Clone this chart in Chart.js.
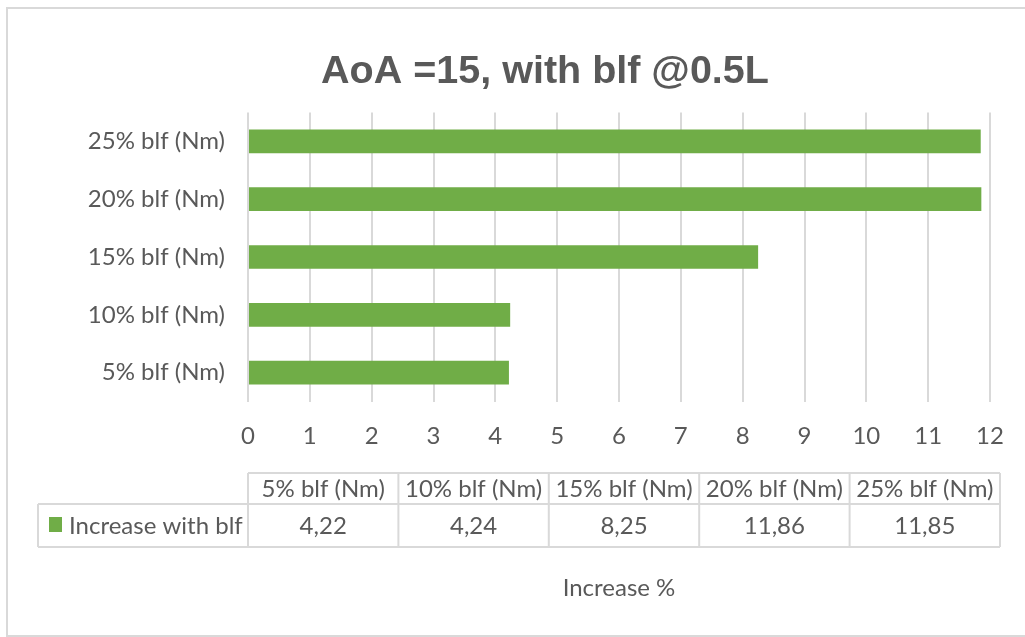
<!DOCTYPE html>
<html>
<head>
<meta charset="utf-8">
<script src="https://cdn.jsdelivr.net/npm/chart.js@4.4.1/dist/chart.umd.min.js"></script>
<style>
  html, body { margin: 0; padding: 0; background: #fff; overflow: hidden; }
  #wrap { position: relative; width: 1025px; height: 637px; }
</style>
</head>
<body>
<div id="wrap"><canvas id="c" width="1025" height="637"></canvas></div>
<script>
// Categories (bottom to top on the chart, left to right in the table)
const categories = ['5% blf (Nm)', '10% blf (Nm)', '15% blf (Nm)', '20% blf (Nm)', '25% blf (Nm)'];
// Percentage increase per blade length fraction
const increaseWithBlf = [4.22, 4.24, 8.25, 11.86, 11.85];
const seriesName = 'Increase with blf';
const chartTitle = 'AoA =15, with blf @0.5L';
const axisTitle = 'Increase %';
const xMin = 0;
const xMax = 12;
const xStep = 1;

const TEXT = '#595959';
const GRID = '#d9d9d9';
const GREEN = '#70ad47';
const BODY_FONT = 'Lato, "Open Sans", sans-serif';
const BODY_SIZE = 24;

// decimal comma, as in the table
const fmt = v => v.toFixed(2).replace('.', ',');

// white background, light frame and the chart heading
const framePlugin = {
  id: 'frame',
  beforeDraw(chart) {
    const ctx = chart.ctx;
    ctx.save();
    ctx.fillStyle = '#fff';
    ctx.fillRect(0, 0, chart.width, chart.height);
    ctx.strokeStyle = GRID;
    ctx.lineWidth = 2;
    ctx.strokeRect(7, 8, chart.width + 20, chart.height - 9);

    ctx.fillStyle = TEXT;
    ctx.font = 'bold 39.5px "Liberation Sans", Arial, sans-serif';
    ctx.textAlign = 'center';
    ctx.textBaseline = 'alphabetic';
    ctx.fillText(chartTitle, 545, 83);
    ctx.restore();
  }
};

// data table with legend key, under the value axis
const dataTablePlugin = {
  id: 'dataTable',
  afterDraw(chart) {
    const ctx = chart.ctx;
    const left = chart.chartArea.left;
    const right = chart.chartArea.right + 10;
    const n = categories.length;
    const colW = (right - left) / n;
    const top = 473, mid = 504, bottom = 547, keyLeft = 38;

    ctx.save();
    ctx.strokeStyle = GRID;
    ctx.lineWidth = 2;
    ctx.beginPath();
    ctx.moveTo(left, top); ctx.lineTo(right, top);
    ctx.moveTo(keyLeft, mid); ctx.lineTo(right, mid);
    ctx.moveTo(keyLeft, bottom); ctx.lineTo(right, bottom);
    ctx.moveTo(keyLeft, mid); ctx.lineTo(keyLeft, bottom);
    for (let i = 0; i <= n; i++) {
      const x = left + i * colW;
      ctx.moveTo(x, top); ctx.lineTo(x, bottom);
    }
    ctx.stroke();

    ctx.fillStyle = TEXT;
    ctx.font = BODY_SIZE + 'px ' + BODY_FONT;
    ctx.textAlign = 'center';
    ctx.textBaseline = 'middle';
    const headY = (top + mid) / 2 + 1;
    const rowY = (mid + bottom) / 2 + 1;
    for (let i = 0; i < n; i++) {
      const cx = left + (i + 0.5) * colW;
      ctx.fillText(categories[i], cx, headY);
      ctx.fillText(fmt(increaseWithBlf[i]), cx, rowY);
    }

    // legend key
    ctx.fillStyle = GREEN;
    ctx.fillRect(49, 517, 13, 15);
    ctx.fillStyle = TEXT;
    ctx.textAlign = 'left';
    ctx.fillText(seriesName, 69, rowY);
    ctx.restore();
  }
};

new Chart(document.getElementById('c'), {
  type: 'bar',
  data: {
    labels: categories,
    datasets: [{
      label: seriesName,
      data: increaseWithBlf,
      backgroundColor: GREEN,
      borderWidth: 0,
      categoryPercentage: 1,
      barPercentage: 0.41
    }]
  },
  options: {
    indexAxis: 'y',
    responsive: false,
    animation: false,
    devicePixelRatio: 1,
    layout: { padding: { left: 0, right: 35, top: 112.5, bottom: 0 } },
    plugins: {
      legend: { display: false },
      tooltip: { enabled: false },
      title: { display: false }
    },
    scales: {
      x: {
        min: xMin,
        max: xMax,
        afterFit(scale) { scale.height = 235.5; },
        ticks: {
          stepSize: xStep,
          color: TEXT,
          padding: 20,
          font: { family: BODY_FONT, size: BODY_SIZE }
        },
        grid: { color: GRID, lineWidth: 2, drawTicks: false },
        border: { display: false },
        title: {
          display: true,
          text: axisTitle,
          color: TEXT,
          font: { family: BODY_FONT, size: BODY_SIZE },
          padding: { top: 0, bottom: 34 }
        }
      },
      y: {
        reverse: true,
        afterFit(scale) { scale.width = 248; },
        ticks: {
          color: TEXT,
          padding: 23,
          font: { family: BODY_FONT, size: BODY_SIZE }
        },
        grid: { display: false, drawTicks: false },
        border: { display: false }
      }
    }
  },
  plugins: [framePlugin, dataTablePlugin]
});
</script>
</body>
</html>
